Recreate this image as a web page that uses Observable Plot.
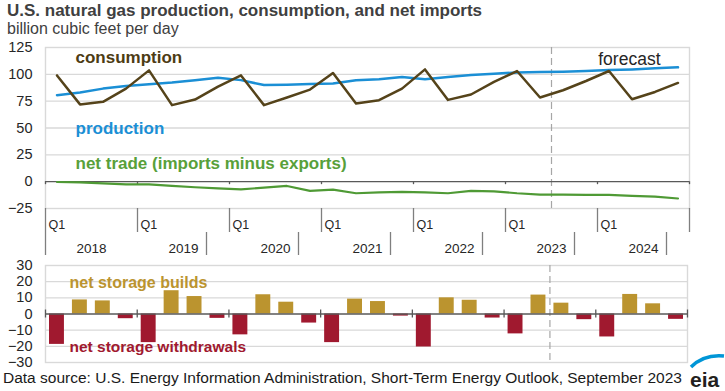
<!DOCTYPE html>
<html>
<head>
<meta charset="utf-8">
<script src="https://cdn.jsdelivr.net/npm/d3@7"></script>
<script src="https://cdn.jsdelivr.net/npm/@observablehq/plot@0.6"></script>
<style>
  body { margin: 0; background: #fff; font-family: "Liberation Sans", Arial, sans-serif; }
  #wrap { position: relative; width: 725px; height: 391px; overflow: hidden; background: #fff; }
  .abs { position: absolute; white-space: nowrap; }
  #title { left: 7px; top: 1px; font-size: 17px; font-weight: bold; color: #404040; }
  #subtitle { left: 7px; top: 23px; font-size: 16px; line-height: 0.8; color: #404040; }
  #caption { left: 3px; top: 369px; font-size: 15.5px; color: #1a1a1a; }
  #top { left: 0; top: 40px; }
  #bottom { left: 0; top: 258px; }
  #logo { left: 688px; top: 352px; }
</style>
</head>
<body>
<div id="wrap">
  <div id="title" class="abs">U.S. natural gas production, consumption, and net imports</div>
  <div id="subtitle" class="abs">billion cubic feet per day</div>
  <div id="top" class="abs"></div>
  <div id="bottom" class="abs"></div>
  <div id="caption" class="abs">Data source: U.S. Energy Information Administration, Short-Term Energy Outlook, September 2023</div>
  <svg id="logo" class="abs" width="37" height="39">
    <path d="M3,15 Q16,2 36,4" stroke="#0096d7" stroke-width="3.5" fill="none"/>
    <text x="2" y="35" font-size="21" font-weight="bold" fill="#231f20" font-family="Liberation Sans, Arial, sans-serif">eia</text>
  </svg>
</div>
<script>
// ---- data ----
const years = [2018, 2019, 2020, 2021, 2022, 2023, 2024];
const quarterNames = ["Q1", "Q2", "Q3", "Q4"];
const consumption = [99, 72, 74.4, 86.7, 103.7, 71.3, 76.5, 88.6, 99, 71.3, 78.4, 85.8, 101.2, 72.8, 75.9, 86.7, 104.6, 76.2, 81.2, 92.9, 103.1, 78.4, 85.2, 93.8, 103.1, 76.8, 83.6, 92];
const production = [80.6, 83.0, 86.7, 89.2, 90.7, 92.3, 94.4, 96.8, 94.6, 90.0, 90.4, 91.0, 91.4, 94.4, 95.4, 97.5, 95.4, 97.5, 99.4, 100.6, 101.8, 102.1, 102.4, 103.0, 104.0, 104.6, 105.6, 106.5];
const netTrade = [-0.3, -0.6, -1.5, -2.5, -2.5, -4.0, -5.2, -6.2, -7.1, -5.6, -4.0, -8.6, -7.4, -10.8, -9.9, -9.6, -9.9, -10.8, -8.6, -9.0, -10.8, -12.0, -12.0, -12.3, -12.3, -13.3, -13.9, -15.7];
const storage = [-18.8, 8.7, 8.1, -2.9, -17.7, 14.4, 10.8, -2.7, -12.9, 11.9, 7.3, -5.6, -17.7, 9.2, 7.7, -1.3, -20.4, 10.0, 8.5, -2.5, -12.3, 11.7, 6.7, -3.5, -14.2, 12.1, 6.3, -3.3];
const yTicksTop = [-25, 0, 25, 50, 75, 100, 125];
const yTicksBottom = [-30, -20, -10, 0, 10, 20, 30];
const forecastStart = 22;                         // quarter index where forecast begins (2023 Q3)
const yearSeparators = [0, 7, 11, 15, 19, 23, 27]; // year-row divider positions as drawn in the original

// ---- derived table ----
const rows = consumption.map((v, i) => ({
  i, x: i + 0.5,
  year: years[Math.floor(i / 4)], quarter: quarterNames[i % 4],
  consumption: v, production: production[i], net: netTrade[i], storage: storage[i]
}));
const yearBounds = d3.range(0, years.length * 4 + 1, 4);

const brown = "#55431a", blue = "#1b8fd5", green = "#4f9a35", gold = "#bb942f", red = "#a0192f";
const grid = "#d9d9d9", axisDark = "#595959", txt = "#262626";
const font = "Liberation Sans, Arial, sans-serif";

const topPlot = Plot.plot({
  width: 725, height: 215,
  marginLeft: 45, marginRight: 36, marginTop: 7, marginBottom: 47,
  x: {domain: [0, 28], axis: null},
  y: {domain: [-25, 125], axis: null},
  style: {fontFamily: font, background: "transparent", overflow: "visible"},
  marks: [
    Plot.ruleY([25, 50, 75, 100], {stroke: grid, strokeWidth: 1.4}),
    Plot.frame({stroke: grid, strokeWidth: 1.4}),
    Plot.ruleX([forecastStart], {stroke: "#a6a6a6", strokeWidth: 1.2, strokeDasharray: "7,4"}),
    Plot.ruleY([0], {stroke: axisDark, strokeWidth: 1.3}),
    Plot.ruleX(yearBounds, {x: d => d, y1: 0, y2: 0, insetBottom: -3, stroke: axisDark, strokeWidth: 1.3}),
    Plot.line(rows, {x: "x", y: "net", stroke: green, strokeWidth: 2.2}),
    Plot.line(rows, {x: "x", y: "production", stroke: blue, strokeWidth: 2.5}),
    Plot.line(rows, {x: "x", y: "consumption", stroke: brown, strokeWidth: 2.5}),
    Plot.axisY({ticks: yTicksTop, label: null, tickSize: 0, tickPadding: 13, fontSize: 14.5, fill: txt}),
    // quarter row
    Plot.ruleX(yearBounds, {x: d => d, y1: -25, y2: -25, insetBottom: -24, stroke: "#7f7f7f", strokeWidth: 1.3}),
    Plot.text(years, {x: (d, i) => i * 4, y: -25, text: () => "Q1", dx: 3, dy: 16, textAnchor: "start", fontSize: 12.5, fill: txt}),
    // year row
    Plot.ruleX(yearSeparators, {x: d => d, y1: -25, y2: -25, insetTop: 24, insetBottom: -47, stroke: "#7f7f7f", strokeWidth: 1.3}),
    Plot.text(years, {x: (d, i) => i * 4 + 2, y: -25, text: d => String(d), dy: 40, fontSize: 13.5, fill: txt}),
    // series labels
    Plot.text(["consumption"], {frameAnchor: "top-left", text: d => d, dx: 30, dy: 3, textAnchor: "start", lineAnchor: "top", fontSize: 17, fontWeight: "bold", fill: "#4d3c14"}),
    Plot.text(["production"], {frameAnchor: "top-left", text: d => d, dx: 30, dy: 74, textAnchor: "start", lineAnchor: "top", fontSize: 17, fontWeight: "bold", fill: blue}),
    Plot.text(["net trade (imports minus exports)"], {frameAnchor: "top-left", text: d => d, dx: 30, dy: 109, textAnchor: "start", lineAnchor: "top", fontSize: 17, fontWeight: "bold", fill: "#58a03a"}),
    Plot.text(["forecast"], {frameAnchor: "top-right", text: d => d, dx: -29, dy: 5, textAnchor: "end", lineAnchor: "top", fontSize: 17.5, fill: txt})
  ]
});
document.getElementById("top").appendChild(topPlot);

const bottomPlot = Plot.plot({
  width: 725, height: 108,
  marginLeft: 45, marginRight: 38, marginTop: 7, marginBottom: 4,
  x: {domain: [0, 28], axis: null},
  y: {domain: [-30, 30], axis: null},
  style: {fontFamily: font, background: "transparent", overflow: "visible"},
  marks: [
    Plot.ruleY([-20, -10, 10, 20], {stroke: grid, strokeWidth: 1.4}),
    Plot.frame({stroke: grid, strokeWidth: 1.4}),
    Plot.ruleX([forecastStart], {stroke: "#a6a6a6", strokeWidth: 1.2, strokeDasharray: "7,4"}),
    Plot.rectY(rows.filter(d => d.storage >= 0), {x1: "i", x2: d => d.i + 1, y: "storage", fill: gold, insetLeft: 4, insetRight: 4}),
    Plot.rectY(rows.filter(d => d.storage < 0), {x1: "i", x2: d => d.i + 1, y: "storage", fill: red, insetLeft: 4, insetRight: 4}),
    Plot.ruleY([0], {stroke: axisDark, strokeWidth: 1.3}),
    Plot.ruleX(yearBounds, {x: d => d, y1: 0, y2: 0, insetTop: -4, insetBottom: -4, stroke: axisDark, strokeWidth: 1.3}),
    Plot.axisY({ticks: yTicksBottom, label: null, tickSize: 0, tickPadding: 13, fontSize: 14.5, fill: txt}),
    Plot.text(["net storage builds"], {frameAnchor: "top-left", text: d => d, dx: 24, dy: 11.5, textAnchor: "start", lineAnchor: "top", fontSize: 16, fontWeight: "bold", fill: gold}),
    Plot.text(["net storage withdrawals"], {frameAnchor: "top-left", text: d => d, dx: 24, dy: 75, textAnchor: "start", lineAnchor: "top", fontSize: 15.5, fontWeight: "bold", fill: red})
  ]
});
document.getElementById("bottom").appendChild(bottomPlot);
</script>
</body>
</html>
